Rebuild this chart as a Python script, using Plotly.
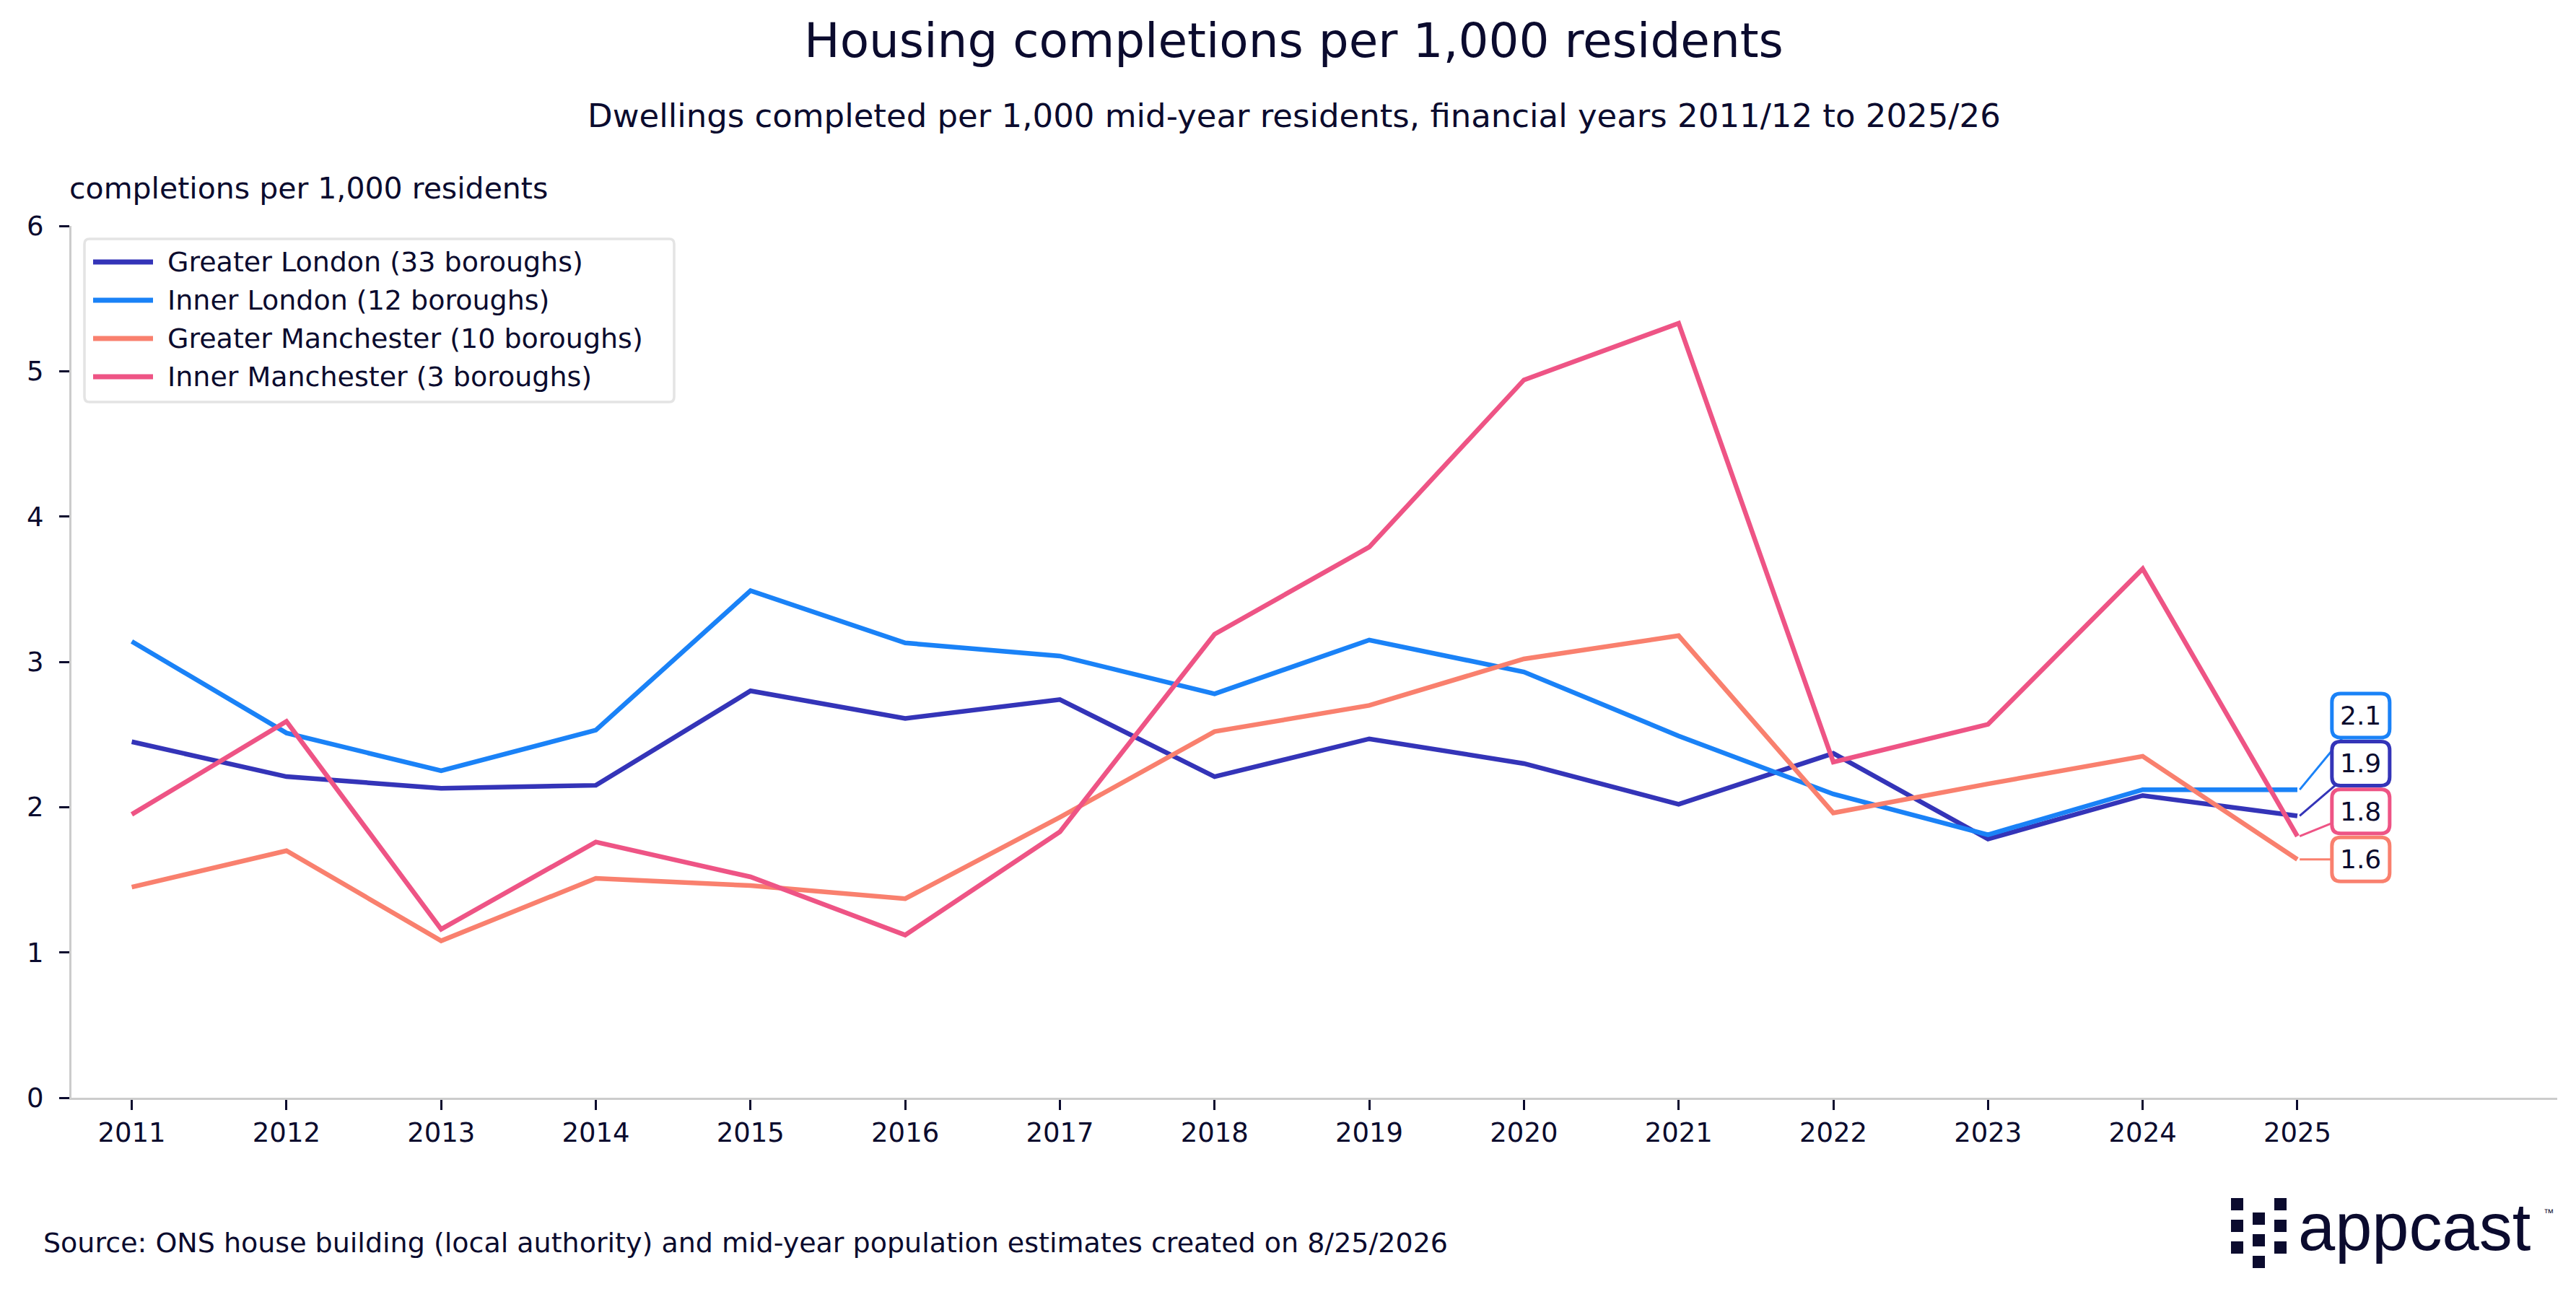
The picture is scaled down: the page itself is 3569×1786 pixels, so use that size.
import plotly.graph_objects as go

# DATA
years = list(range(2011, 2026))
greater_london = [2.45, 2.21, 2.13, 2.15, 2.80, 2.61, 2.74, 2.21, 2.47, 2.30, 2.02, 2.37, 1.78, 2.08, 1.94]
inner_london = [3.14, 2.51, 2.25, 2.53, 3.49, 3.13, 3.04, 2.78, 3.15, 2.93, 2.49, 2.09, 1.81, 2.12, 2.12]
greater_manchester = [1.45, 1.70, 1.08, 1.51, 1.46, 1.37, 1.93, 2.52, 2.70, 3.02, 3.18, 1.96, 2.16, 2.35, 1.64]
inner_manchester = [1.95, 2.59, 1.16, 1.76, 1.52, 1.12, 1.83, 3.19, 3.79, 4.94, 5.33, 2.31, 2.57, 3.64, 1.80]

series_names = [
    "Greater London (33 boroughs)",
    "Inner London (12 boroughs)",
    "Greater Manchester (10 boroughs)",
    "Inner Manchester (3 boroughs)",
]
series_values = [greater_london, inner_london, greater_manchester, inner_manchester]
series_colors = ["#3434b8", "#1a82f7", "#f9806e", "#ee5485"]

title = "Housing completions per 1,000 residents"
subtitle = "Dwellings completed per 1,000 mid-year residents, financial years 2011/12 to 2025/26"
y_title = "completions per 1,000 residents"
source = "Source: ONS house building (local authority) and mid-year population estimates created on 8/25/2026"

# LAYOUT GEOMETRY (pixels)
W, H = 3569, 1786
L, R, T, B = 91, 34, 305, 273
NAVY = "#0b0b2e"
FONT = "DejaVu Sans"


def px_x(px):
    return (px - L) / (W - L - R)


def px_y(py):
    return (H - B - py) / (H - T - B)


def rounded_rect(w, h, r):
    x0, x1, y0, y1 = -w / 2, w / 2, -h / 2, h / 2
    return (f"M{x0 + r},{y0} L{x1 - r},{y0} Q{x1},{y0} {x1},{y0 + r} "
            f"L{x1},{y1 - r} Q{x1},{y1} {x1 - r},{y1} L{x0 + r},{y1} "
            f"Q{x0},{y1} {x0},{y1 - r} L{x0},{y0 + r} Q{x0},{y0} {x0 + r},{y0} Z")


fig = go.Figure()
for name, color, vals in zip(series_names, series_colors, series_values):
    fig.add_trace(go.Scatter(x=years, y=vals, mode="lines", name=name,
                             line=dict(color=color, width=6.5), showlegend=False,
                             hoverinfo="x+y+name"))

shapes = []
annotations = []

# END LABELS - stacked boxes to the right of the last year
label_x = years[-1] + 0.41
spacing = 0.33
ends = sorted(zip([v[-1] for v in series_values], series_colors))
label_pos = []
prev = None
for v, color in ends:
    y = v if prev is None else max(v, prev + spacing)
    label_pos.append((v, y, color))
    prev = y

for v, y, color in label_pos:
    shapes.append(dict(type="line", xref="x", yref="y", x0=years[-1] + 0.015, y0=v,
                       x1=label_x, y1=y, line=dict(color=color, width=3), layer="above"))
for v, y, color in label_pos:
    shapes.append(dict(type="path", xref="x", yref="y", xsizemode="pixel", ysizemode="pixel",
                       xanchor=label_x, yanchor=y, path=rounded_rect(80, 61, 12),
                       fillcolor="white", line=dict(color=color, width=5), layer="above"))
    annotations.append(dict(x=label_x, y=y, xref="x", yref="y", text=f"{v:.1f}",
                            showarrow=False, font=dict(family=FONT, size=36, color=NAVY),
                            xanchor="center", yanchor="middle"))

# LEGEND (drawn by hand to get long line samples and a rounded frame)
shapes.append(dict(type="path", xref="paper", yref="paper", xsizemode="pixel", ysizemode="pixel",
                   xanchor=px_x((109 + 926) / 2), yanchor=px_y((323 + 549) / 2),
                   path=rounded_rect(817, 226, 7), fillcolor="white",
                   line=dict(color="#e4e4e4", width=3.5), layer="above"))
for i, (name, color) in enumerate(zip(series_names, series_colors)):
    row_y = 355 + i * 53
    shapes.append(dict(type="line", xref="paper", yref="paper", x0=px_x(121), x1=px_x(204),
                       y0=px_y(row_y), y1=px_y(row_y), line=dict(color=color, width=7),
                       layer="above"))
    annotations.append(dict(x=px_x(222), y=px_y(row_y), xref="paper", yref="paper", text=name,
                            showarrow=False, xanchor="left", yanchor="middle",
                            font=dict(family=FONT, size=38, color=NAVY)))

# TITLES AND SOURCE
annotations += [
    dict(x=px_x(W / 2), y=px_y(48), xref="paper", yref="paper", text=title, showarrow=False,
         xanchor="center", yanchor="middle", font=dict(family=FONT, size=66, color=NAVY)),
    dict(x=px_x(W / 2), y=px_y(152), xref="paper", yref="paper", text=subtitle, showarrow=False,
         xanchor="center", yanchor="middle", font=dict(family=FONT, size=45, color=NAVY)),
    dict(x=px_x(86), y=px_y(253), xref="paper", yref="paper", text=y_title, showarrow=False,
         xanchor="left", yanchor="middle", font=dict(family=FONT, size=41, color=NAVY)),
    dict(x=px_x(50), y=px_y(1714), xref="paper", yref="paper", text=source, showarrow=False,
         xanchor="left", yanchor="middle", font=dict(family=FONT, size=38, color=NAVY)),
]

# LOGO
for col, cx in enumerate([3083, 3113, 3143]):
    offset = 20 if col == 1 else 0
    for ry in [1652, 1682, 1712]:
        top = ry + offset
        shapes.append(dict(type="rect", xref="paper", yref="paper",
                           x0=px_x(cx), x1=px_x(cx + 17), y0=px_y(top), y1=px_y(top + 17),
                           fillcolor=NAVY, line=dict(width=0), layer="above"))
annotations += [
    dict(x=px_x(3174), y=px_y(1692), xref="paper", yref="paper", text="appcast", showarrow=False,
         xanchor="left", yanchor="middle",
         font=dict(family="Liberation Sans", size=92, color=NAVY)),
    dict(x=px_x(3514), y=px_y(1672), xref="paper", yref="paper", text="™", showarrow=False,
         xanchor="left", yanchor="middle",
         font=dict(family="Liberation Sans", size=14, color=NAVY)),
]

axis_style = dict(showline=True, linecolor="#cccccc", linewidth=3, ticks="outside", ticklen=14,
                  tickwidth=3, tickcolor=NAVY, showgrid=False, zeroline=False,
                  tickfont=dict(family=FONT, size=37, color=NAVY))

fig.update_layout(
    width=W, height=H,
    margin=dict(l=L, r=R, t=T, b=B),
    plot_bgcolor="white", paper_bgcolor="white",
    xaxis=dict(range=[2010.61, 2026.68], tickvals=years, ticklabelstandoff=0, **axis_style),
    yaxis=dict(range=[0, 6], dtick=1, ticklabelstandoff=14, **axis_style),
    shapes=shapes,
    annotations=annotations,
    showlegend=False,
)

fig.write_html("out.html")
